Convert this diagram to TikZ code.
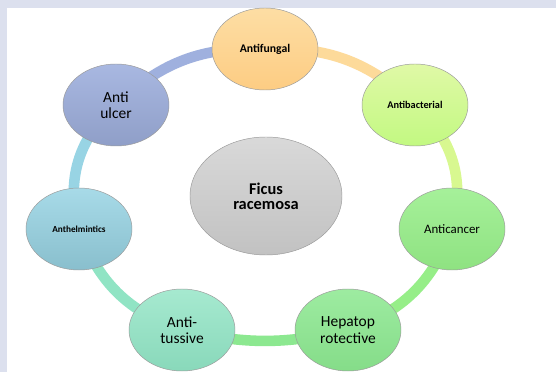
\documentclass[tikz,border=0pt]{standalone}
\usepackage{fontspec}
\setmainfont{Carlito}
\usepackage{tikz}
\usetikzlibrary{shapes.geometric, positioning, backgrounds}

\definecolor{frameblue}{HTML}{DCE0EE}
\definecolor{edgegray}{HTML}{9A9A9A}
\definecolor{ringulcer}{HTML}{9FB0DE}
\definecolor{ringfung}{HTML}{FDDA9A}
\definecolor{ringbact}{HTML}{D8F890}
\definecolor{ringcanc}{HTML}{96EE88}
\definecolor{ringhep}{HTML}{8CE890}
\definecolor{ringtuss}{HTML}{90E4C4}
\definecolor{ringhelm}{HTML}{98D4E4}

\begin{document}
\begin{tikzpicture}[x=0.03cm, y=-0.03cm,
    bub/.style={ellipse, draw=edgegray, line width=0.4pt, inner sep=0pt,
        minimum width=3.18cm, minimum height=2.46cm, align=center},
    ring/.style={line width=9pt}]
\useasboundingbox (0,0) rectangle (556,372);

% activities round the plant
\node[bub, top color=ringfung!90!white, bottom color=ringfung!85!orange,
    font=\bfseries\fontsize{10}{12}\selectfont] (fung) at (265,49) {Antifungal};
\node[bub, top color=ringbact!80!white, bottom color=ringbact!90!green,
    font=\bfseries\fontsize{8.8}{10}\selectfont] (bact) at (415,105) {Antibacterial};
\node[bub, top color=ringcanc!85!white, bottom color=ringcanc!95!black,
    font=\fontsize{11}{13}\selectfont] (canc) at (452,229) {Anticancer};
\node[bub, top color=ringhep!85!white, bottom color=ringhep!95!black,
    font=\fontsize{13.2}{14}\selectfont] (hep) at (348,330) {Hepatop\\rotective};
\node[bub, top color=ringtuss!80!white, bottom color=ringtuss!95!black,
    font=\fontsize{13.2}{14}\selectfont] (tuss) at (182,330) {Anti-\\tussive};
\node[bub, top color=ringhelm!85!white, bottom color=ringhelm!90!black,
    font=\bfseries\fontsize{7.9}{9}\selectfont] (helm) at (79,229) {Anthelmintics};
\node[bub, top color=ringulcer!90!white, bottom color=ringulcer!90!black,
    font=\fontsize{13.2}{14}\selectfont] (ulcer) at (116,105) {Anti\\ulcer};

% the plant
\node[bub, minimum width=4.56cm, minimum height=3.54cm,
    top color=gray!30, bottom color=gray!48,
    font=\bfseries\fontsize{14}{13}\selectfont] (ficus) at (266,196) {Ficus\\racemosa};

\begin{scope}[on background layer]
\fill[frameblue] (0,0) rectangle (556,372);
\fill[white] (7,8) rectangle (556,372);
\foreach \a/\b/\c/\bend in {ulcer/fung/ringulcer/23, fung/bact/ringfung/23,
    bact/canc/ringbact/32, canc/hep/ringcanc/26, hep/tuss/ringhep/13,
    tuss/helm/ringtuss/26, helm/ulcer/ringhelm/32}
    \draw[ring, \c] (\a.center) to[bend left=\bend] (\b.center);
\end{scope}
\end{tikzpicture}
\end{document}
